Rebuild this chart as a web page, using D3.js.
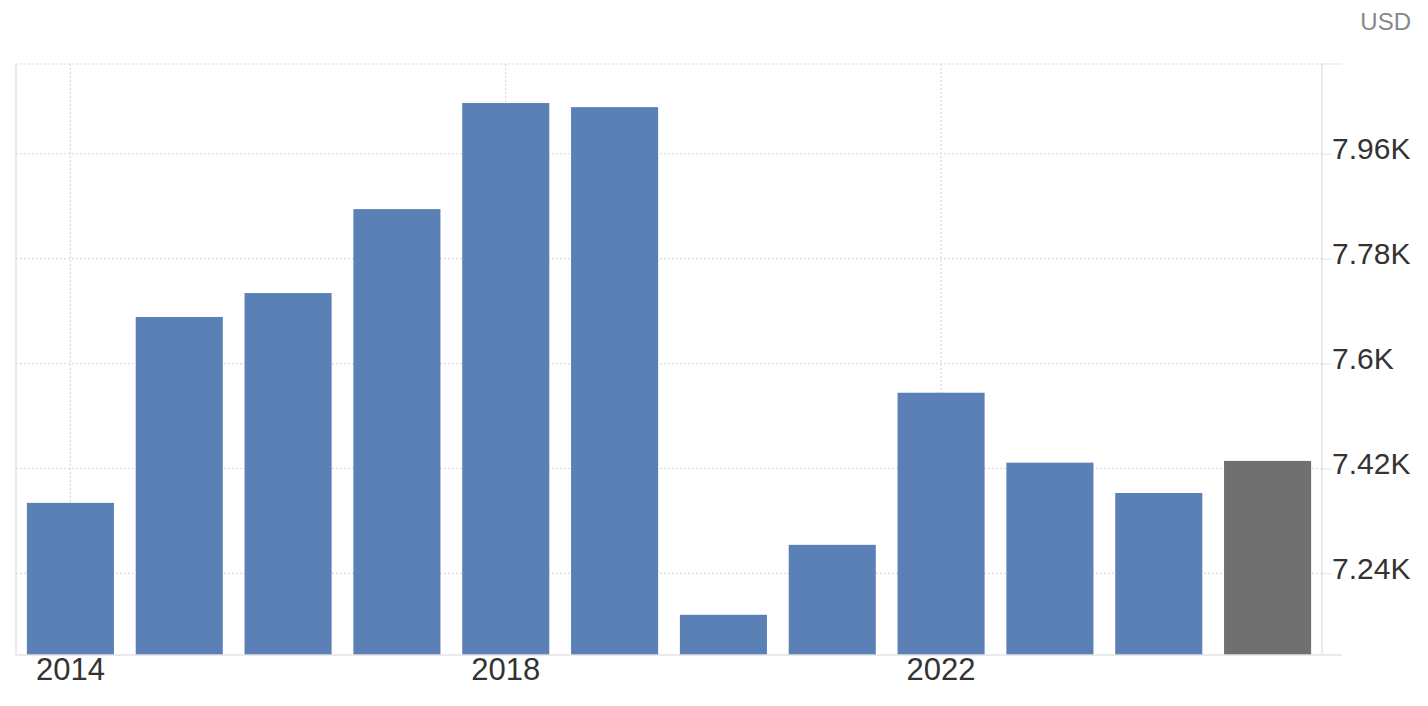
<!DOCTYPE html>
<html>
<head>
<meta charset="utf-8">
<script src="https://cdn.jsdelivr.net/npm/d3@7"></script>
<style>
  body { margin: 0; background: #fff; }
  text { font-family: "Liberation Sans", Arial, Helvetica, sans-serif; }
</style>
</head>
<body>
<div id="chart"></div>
<script>
const years = [2014, 2015, 2016, 2017, 2018, 2019, 2020, 2021, 2022, 2023, 2024, 2025];
const values = [7361, 7680, 7721, 7865, 8047, 8040, 7169, 7289, 7550, 7430, 7378, 7433];
const yTicks = [7240, 7420, 7600, 7780, 7960];
const yTop = 8114;
const yBottom = 7100;
const xLabelYears = [2014, 2018, 2022];
const unitLabel = "USD";

const W = 1428, H = 706;
const margin = { top: 64, right: 106, bottom: 51, left: 16 };
const width = W - margin.left - margin.right;
const height = H - margin.top - margin.bottom;

const svg = d3.select("#chart")
    .append("svg")
    .attr("width", W)
    .attr("height", H);

const g = svg.append("g")
    .attr("transform", `translate(${margin.left}, ${margin.top})`);

const x = d3.scaleBand()
    .domain(years)
    .range([0, width])
    .paddingInner(0.2)
    .paddingOuter(0.1);

const y = d3.scaleLinear()
    .domain([yBottom, yTop])
    .range([height, 0]);

// horizontal dotted grid
g.append("g")
    .selectAll("line")
    .data(yTicks.concat([yTop]))
    .enter()
    .append("line")
    .attr("x1", 0)
    .attr("x2", width)
    .attr("y1", d => y(d))
    .attr("y2", d => y(d))
    .attr("stroke", "#d9d9d9")
    .attr("stroke-width", 1.2)
    .attr("stroke-dasharray", "2,2");

// vertical dotted grid at labelled years
g.append("g")
    .selectAll("line")
    .data(xLabelYears)
    .enter()
    .append("line")
    .attr("x1", d => x(d) + x.bandwidth() / 2)
    .attr("x2", d => x(d) + x.bandwidth() / 2)
    .attr("y1", 0)
    .attr("y2", height)
    .attr("stroke", "#d9d9d9")
    .attr("stroke-width", 1.2)
    .attr("stroke-dasharray", "2,2");

// bars
g.append("g")
    .selectAll("rect")
    .data(years.map((yr, i) => ({ year: yr, value: values[i] })))
    .enter()
    .append("rect")
    .attr("x", d => x(d.year))
    .attr("y", d => y(d.value))
    .attr("width", x.bandwidth())
    .attr("height", d => height - y(d.value))
    .attr("fill", (d, i) => i === years.length - 1 ? "#707070" : "#5a80b5");

// left frame line
g.append("line")
    .attr("x1", 0).attr("x2", 0)
    .attr("y1", 0).attr("y2", height)
    .attr("stroke", "#e3e3e3")
    .attr("stroke-width", 1.5);

// right axis
const yAxis = d3.axisRight(y)
    .tickValues(yTicks)
    .tickSize(10)
    .tickPadding(0)
    .tickFormat(d => d3.format(".3~")(d / 1000) + "K");

const ya = g.append("g")
    .attr("transform", `translate(${width}, 0)`)
    .call(yAxis);
ya.select(".domain")
    .attr("stroke", "#e3e3e3")
    .attr("stroke-width", 1.5)
    .attr("d", `M0,0V${height}`);
ya.selectAll(".tick line").attr("stroke", "#e3e3e3");
ya.selectAll(".tick text")
    .attr("x", 10)
    .attr("dy", null)
    .attr("y", 5)
    .attr("fill", "#333")
    .attr("font-size", "30px");

// top extended tick
g.append("line")
    .attr("x1", width).attr("x2", width + 20)
    .attr("y1", y(yTop)).attr("y2", y(yTop))
    .attr("stroke", "#e3e3e3");

// bottom axis
const xAxis = d3.axisBottom(x)
    .tickValues(xLabelYears)
    .tickSize(0)
    .tickPadding(0)
    .tickFormat(d3.format("d"));

const xa = g.append("g")
    .attr("transform", `translate(0, ${height})`)
    .call(xAxis);
xa.select(".domain")
    .attr("stroke", "#e3e3e3")
    .attr("stroke-width", 1.5)
    .attr("d", `M0,0H${width + 20}`);
xa.selectAll(".tick text")
    .attr("dy", null)
    .attr("y", 25)
    .attr("fill", "#333")
    .attr("font-size", "31px");

// unit label
svg.append("text")
    .attr("x", 1411)
    .attr("y", 30)
    .attr("text-anchor", "end")
    .attr("fill", "#888")
    .attr("font-size", "24px")
    .text(unitLabel);
</script>
</body>
</html>
